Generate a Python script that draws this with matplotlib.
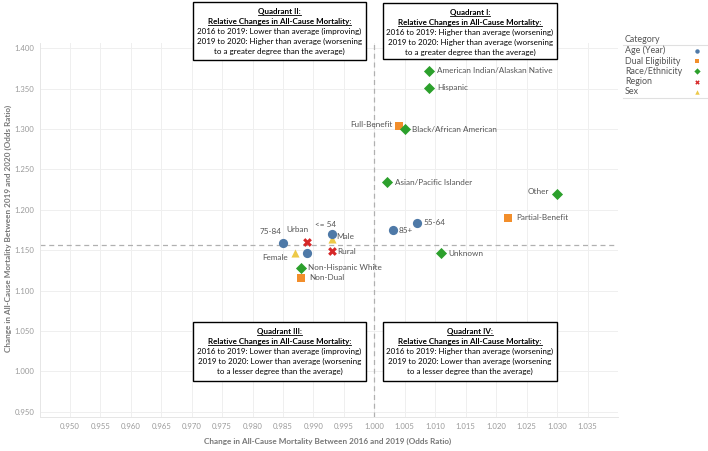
import matplotlib
matplotlib.use("Agg")
import matplotlib.pyplot as plt
from matplotlib.patches import Rectangle
from matplotlib.lines import Line2D

W, H = 708, 451

# data
names = [
    "American Indian/Alaskan Native", "Hispanic", "Black/African American",
    "Asian/Pacific Islander", "Other", "Unknown", "Non-Hispanic White",
    "Full-Benefit", "Partial-Benefit", "Non-Dual",
    "Urban", "Rural",
    "Male", "Female",
    "<= 54", "55-64", "65-74", "75-84", "85+",
]
groups = [
    "Race/Ethnicity", "Race/Ethnicity", "Race/Ethnicity",
    "Race/Ethnicity", "Race/Ethnicity", "Race/Ethnicity", "Race/Ethnicity",
    "Dual Eligibility", "Dual Eligibility", "Dual Eligibility",
    "Region", "Region",
    "Sex", "Sex",
    "Age (Year)", "Age (Year)", "Age (Year)", "Age (Year)", "Age (Year)",
]
or_2016_2019 = [
    1.009, 1.009, 1.005, 1.002, 1.030, 1.011, 0.988,
    1.004, 1.022, 0.988,
    0.989, 0.993,
    0.993, 0.987,
    0.993, 1.007, 0.989, 0.985, 1.003,
]
or_2019_2020 = [
    1.372, 1.351, 1.300, 1.234, 1.220, 1.146, 1.128,
    1.304, 1.190, 1.115,
    1.160, 1.149,
    1.164, 1.147,
    1.170, 1.184, 1.147, 1.159, 1.175,
]
avg_x = 1.000
avg_y = 1.157

legend_groups = ["Age (Year)", "Dual Eligibility", "Race/Ethnicity", "Region", "Sex"]
x_ticks = [0.950, 0.955, 0.960, 0.965, 0.970, 0.975, 0.980, 0.985, 0.990,
           0.995, 1.000, 1.005, 1.010, 1.015, 1.020, 1.025, 1.030, 1.035]
y_ticks = [0.950, 1.000, 1.050, 1.100, 1.150, 1.200, 1.250, 1.300, 1.350, 1.400]

quadrant_texts = {
    "II": ["Quadrant II:", "Relative Changes in All-Cause Mortality:",
           "2016 to 2019: Lower than average (improving)",
           "2019 to 2020: Higher than average (worsening",
           "to a greater degree than the average)"],
    "I": ["Quadrant I:", "Relative Changes in All-Cause Mortality:",
          "2016 to 2019: Higher than average (worsening)",
          "2019 to 2020: Higher than average (worsening",
          "to a greater degree than the average)"],
    "III": ["Quadrant III:", "Relative Changes in All-Cause Mortality:",
            "2016 to 2019: Lower than average (improving)",
            "2019 to 2020: Lower than average (worsening",
            "to a lesser degree than the average)"],
    "IV": ["Quadrant IV:", "Relative Changes in All-Cause Mortality:",
           "2016 to 2019: Higher than average (worsening)",
           "2019 to 2020: Lower than average (worsening",
           "to a lesser degree than the average)"],
}

# styles
styles = {
    "Age (Year)": dict(marker="o", color="#4E79A7", s=44),
    "Dual Eligibility": dict(marker="s", color="#F28E2B", s=38),
    "Race/Ethnicity": dict(marker="D", color="#2CA02C", s=32),
    "Region": dict(marker="X", color="#D62728", s=40),
    "Sex": dict(marker="^", color="#EDC948", s=34),
}
draw_order = ["Sex", "Region", "Dual Eligibility", "Race/Ethnicity", "Age (Year)"]

# label offsets in pixels (dx, dy, ha)
label_pos = {
    "American Indian/Alaskan Native": (8, 0, "left"),
    "Hispanic": (8, 0, "left"),
    "Black/African American": (7, 0, "left"),
    "Asian/Pacific Islander": (8, 0, "left"),
    "Other": (-8, 2, "right"),
    "Unknown": (7, 0, "left"),
    "Non-Hispanic White": (7, 0, "left"),
    "Full-Benefit": (-6, 1, "right"),
    "Partial-Benefit": (8, 0, "left"),
    "Non-Dual": (8, 1, "left"),
    "Urban": (-10, 13, "center"),
    "Rural": (6, 0, "left"),
    "Male": (5, 2, "left"),
    "Female": (-7, -5, "right"),
    "<= 54": (-6, 10, "center"),
    "55-64": (6, 0, "left"),
    "75-84": (-12, 11, "center"),
    "85+": (6, 0, "left"),
}

plt.rcParams["font.family"] = ["Lato", "DejaVu Sans"]


def fx(px):
    return px / W


def fy(py):
    return 1 - py / H


fig = plt.figure(figsize=(W / 100, H / 100), dpi=100)
ax = fig.add_axes([fx(40), fy(417), (618 - 40) / W, (417 - 43) / H])

for g in draw_order:
    xs = [x for x, gg in zip(or_2016_2019, groups) if gg == g]
    ys = [y for y, gg in zip(or_2019_2020, groups) if gg == g]
    st = styles[g]
    ax.scatter(xs, ys, marker=st["marker"], c=st["color"], s=st["s"],
               linewidths=0, zorder=3)

for n, x, y in zip(names, or_2016_2019, or_2019_2020):
    if n not in label_pos:
        continue
    dx, dy, ha = label_pos[n]
    ax.annotate(n, (x, y), xytext=(dx, dy), textcoords="offset pixels",
                ha=ha, va="center", fontsize=5.9, color="#555555", zorder=4)

ax.axvline(avg_x, color="#b0b0b0", lw=0.9, ls=(0, (4, 3)), zorder=2)
ax.axhline(avg_y, color="#b0b0b0", lw=0.9, ls=(0, (4, 3)), zorder=2)

ax.set_xlim(0.9451, 1.0400)
ax.set_ylim(0.94346, 1.40656)
ax.set_xticks(x_ticks)
ax.set_xticklabels([f"{t:.3f}" for t in x_ticks])
ax.set_yticks(y_ticks)
ax.set_yticklabels([f"{t:.3f}" for t in y_ticks])
ax.tick_params(length=0, labelsize=5.6, labelcolor="#9a9a9a", pad=4)
ax.grid(True, color="#efefef", lw=0.7, zorder=0)
for side in ["top", "right"]:
    ax.spines[side].set_visible(False)
for side in ["left", "bottom"]:
    ax.spines[side].set_color("#e6e6e6")
    ax.spines[side].set_linewidth(0.7)

fig.text(fx(328), fy(441.7),
         "Change in All-Cause Mortality Between 2016 and 2019 (Odds Ratio)",
         ha="center", va="center", fontsize=5.9, color="#777777", weight="bold")
fig.text(fx(8), fy(228),
         "Change in All-Cause Mortality Between 2019 and 2020 (Odds Ratio)",
         ha="center", va="center", rotation=90, fontsize=5.9,
         color="#777777", weight="bold")

# quadrant boxes
boxes = {
    "II": (193, 2, 366, 60),
    "I": (383, 3, 557, 59),
    "III": (193, 322, 366, 381),
    "IV": (383, 322, 557, 381),
}
underlined = []
for q, (x0, y0, x1, y1) in boxes.items():
    fig.patches.append(Rectangle((fx(x0), fy(y1)), (x1 - x0) / W, (y1 - y0) / H,
                                 transform=fig.transFigure, fill=True,
                                 facecolor="white", edgecolor="black", lw=1.0,
                                 zorder=5))
    cx = (x0 + x1) / 2
    for i, line in enumerate(quadrant_texts[q]):
        bold = i < 2
        t = fig.text(fx(cx), fy(y0 + 9.7 + 9.9 * i), line, ha="center",
                     va="center", fontsize=5.8, color="black",
                     weight="bold" if bold else "normal", zorder=6)
        if bold:
            underlined.append(t)

# legend
fig.text(fx(625), fy(39.5), "Category", ha="left", va="center",
         fontsize=6.4, color="#555555")
fig.lines.append(Line2D([fx(623), fx(708)], [fy(45), fy(45)],
                        transform=fig.transFigure, color="#e0e0e0", lw=0.8))
fig.lines.append(Line2D([fx(623), fx(708)], [fy(98), fy(98)],
                        transform=fig.transFigure, color="#e0e0e0", lw=0.8))
for i, g in enumerate(legend_groups):
    yy = 50.7 + 10.3 * i
    fig.text(fx(625), fy(yy), g, ha="left", va="center", fontsize=6.4,
             color="#555555")
    st = styles[g]
    fig.lines.append(Line2D([fx(697)], [fy(yy)], transform=fig.transFigure,
                            marker=st["marker"], color=st["color"],
                            markersize=3.2, lw=0, markeredgewidth=0))

fig.canvas.draw()
renderer = fig.canvas.get_renderer()
for t in underlined:
    bb = t.get_window_extent(renderer)
    fig.lines.append(Line2D([bb.x0 / W, bb.x1 / W],
                            [(bb.y0 + 0.3) / H, (bb.y0 + 0.3) / H],
                            transform=fig.transFigure, color="black",
                            lw=0.6, zorder=7))

fig.savefig("out.png", dpi=100)
